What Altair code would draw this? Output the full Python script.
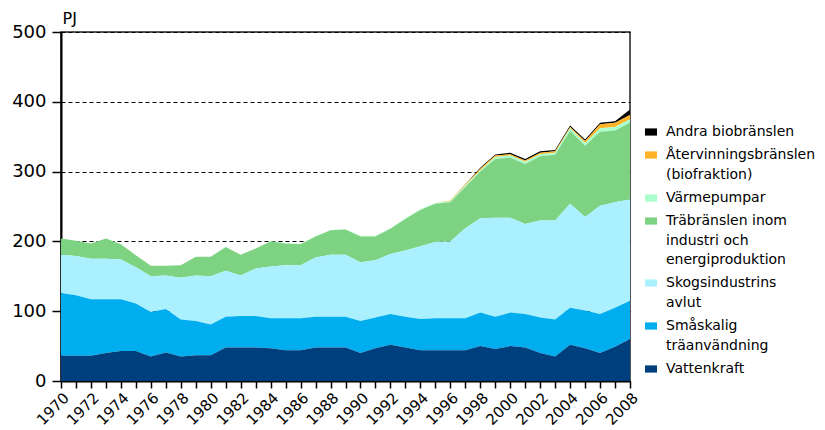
import altair as alt
import pandas as pd

years = list(range(1970, 2009))

vattenkraft = [36, 36, 36, 40, 43, 43, 35, 41, 35, 37,
               37, 48, 48, 48, 47, 44, 44, 48, 48, 48,
               40, 47, 52, 48, 44, 44, 44, 44, 50, 46,
               50, 48, 40, 35, 52, 47, 40, 49, 60]
smaskalig = [90, 87, 81, 77, 74, 68, 64, 62, 53, 49,
             44, 44, 45, 45, 43, 46, 46, 44, 44, 44,
             46, 44, 44, 44, 45, 46, 46, 46, 48, 46,
             48, 48, 51, 53, 53, 54, 56, 56, 55]
skogs = [55, 56, 58, 58, 57, 52, 51, 48, 60, 65,
         69, 66, 58, 68, 74, 76, 76, 85, 89, 89,
         84, 82, 86, 95, 104, 109, 110, 129, 135, 142,
         136, 129, 139, 142, 149, 134, 155, 151, 145]
trabransle = [23, 22, 22, 29, 22, 17, 15, 14, 18, 27,
              28, 34, 30, 29, 36, 31, 30, 30, 35, 36,
              37, 34, 36, 45, 52, 55, 56, 59, 67, 84,
              86, 86, 92, 94, 104, 102, 106, 103, 110]
varmepumpar = [0, 0, 0, 0, 0, 0, 0, 0, 0, 0,
               0, 0, 0, 0, 0.5, 0.5, 0.5, 0.5, 0.5, 0.5,
               1, 1, 1, 1, 1, 1, 1.5, 2, 2, 3,
               3, 3, 3, 3, 4, 4, 5, 5, 5]
atervinning = [0, 0, 0, 0, 0, 0, 0, 0, 0, 0,
               0, 0, 0, 0, 0, 0, 0, 0, 0, 0,
               0, 0, 0, 0, 0, 0, 1, 1.5, 2, 2,
               2, 2, 2, 2, 2, 3, 6, 6, 6]
andra = [0, 0, 0, 0, 0, 0, 0, 0, 0, 0,
         0, 0, 0, 0, 0, 0, 0, 0, 0, 0,
         0, 0, 0, 0, 0, 0, 0, 0.5, 1.5, 1.5,
         2, 2, 2, 2, 2, 2, 2, 2, 8]

# legend order (top to bottom); stacking is the reverse
series_names = [
    "Andra biobränslen",
    "Återvinningsbränslen\n(biofraktion)",
    "Värmepumpar",
    "Träbränslen inom\nindustri och\nenergiproduktion",
    "Skogsindustrins\navlut",
    "Småskalig\nträanvändning",
    "Vattenkraft",
]
series_values = [andra, atervinning, varmepumpar, trabransle, skogs, smaskalig, vattenkraft]
series_colors = ["#000000", "#ffb428", "#aaffcc", "#7dd382", "#aaf0ff", "#00aeef", "#003f7d"]

rows = []
for i, (name, vals) in enumerate(zip(series_names, series_values)):
    for y, v in zip(years, vals):
        rows.append({"year": y, "serie": name, "value": v, "order": len(series_names) - i})
df = pd.DataFrame(rows)

chart = alt.Chart(df).mark_area(interpolate="linear").encode(
    x=alt.X("year:Q",
            scale=alt.Scale(domain=[1970, 2008], nice=False, zero=False),
            axis=alt.Axis(values=years, format="d", labelAngle=-45,
                          labelExpr="datum.value % 2 == 0 ? datum.label : ''",
                          labelOverlap=False, tickSize=7, grid=False, title=None,
                          labelFontSize=15, labelPadding=2)),
    y=alt.Y("value:Q", stack="zero",
            scale=alt.Scale(domain=[0, 500], nice=False),
            axis=alt.Axis(values=[0, 100, 200, 300, 400, 500], grid=True,
                          gridDash=[4, 3], gridColor="#000000", gridOpacity=1,
                          tickSize=9, labelFontSize=18, labelPadding=6,
                          title="PJ", titleAngle=0, titleAlign="left",
                          titleBaseline="alphabetic", titleX=1, titleY=-9,
                          titleFontSize=16, titleFontWeight="normal")),
    color=alt.Color("serie:N",
                    scale=alt.Scale(domain=series_names, range=series_colors),
                    legend=alt.Legend(title=None, orient="none", legendX=583, legendY=93,
                                      labelExpr="split(datum.label, '\\n')",
                                      labelFontSize=14, labelLimit=300, labelOffset=8,
                                      symbolType="M-1,-0.6H1V0.6H-1Z", symbolSize=144,
                                      symbolStrokeWidth=0, rowPadding=9)),
    order=alt.Order("order:Q", sort="ascending"),
).properties(width=569, height=349, padding={"left": 3, "top": 2, "right": 0, "bottom": 0})

chart = chart.configure(
    font="DejaVu Sans",
    style={"guide-label": {"lineHeight": 19.5}},
).configure_axis(
    domainColor="#000000", tickColor="#000000", labelColor="#000000", titleColor="#000000",
    domainWidth=2, tickWidth=1.5,
).configure_view(stroke="#222222", strokeWidth=1.5).configure_legend(
    labelColor="#000000"
)

chart.save("out.html", embed_options={"renderer": "svg", "actions": False})
